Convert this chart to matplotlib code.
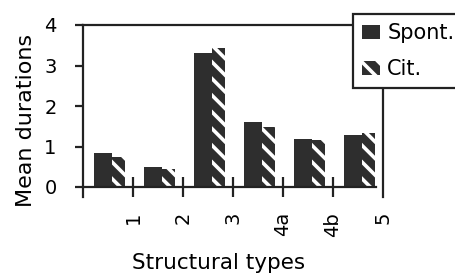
import matplotlib
matplotlib.use("Agg")
import matplotlib.pyplot as plt
import numpy as np

categories = ["1", "2", "3", "4a", "4b", "5"]
spont = [0.84, 0.49, 3.30, 1.60, 1.19, 1.28]
cit = [0.75, 0.44, 3.42, 1.48, 1.17, 1.33]
yticks = [0, 1, 2, 3, 4]

plt.rcParams['font.family'] = ['DejaVu Sans']
plt.rcParams['hatch.linewidth'] = 2.6
plt.rcParams['hatch.color'] = 'white'

dark = '#2e2e2e'
fig = plt.figure(figsize=(4.56, 2.78), dpi=100)
ax = fig.add_axes([83/456, 1-187/278, 300/456, 162/278])

x = np.arange(len(categories))
ax.bar(x - 0.11, spont, width=0.36, color=dark, linewidth=0, label='Spont.')
ax.bar(x + 0.205, cit, width=0.27, color=dark, edgecolor='white', hatch='\\\\', linewidth=0, label='Cit.')

ax.set_xlim(-0.5, 5.5)
ax.set_ylim(0, 4)

for s in ['left', 'right', 'top', 'bottom']:
    ax.spines[s].set_linewidth(1.6)
    ax.spines[s].set_color('#222222')
ax.spines['left'].set_bounds(-0.25, 4)
ax.spines['right'].set_bounds(-0.25, 4)
ax.spines['bottom'].set_bounds(-0.5, 5.36)

ax.set_yticks(yticks)
ax.set_yticklabels([str(v) for v in yticks])
ax.tick_params(axis='y', direction='out', length=6, width=1.6, pad=13, labelsize=14, color='#222222')

ax.set_xticks(x + 0.5)
ax.set_xticklabels(categories, rotation=90, ha='center', va='top')
ax.tick_params(axis='x', direction='inout', length=14, width=1.6, pad=11, labelsize=14, color='#222222')
ax.xaxis.get_major_ticks()[-1].tick1line.set_visible(False)

ax.set_ylabel('Mean durations', fontsize=16)
ax.yaxis.set_label_coords(-0.155, 0.41)
ax.set_xlabel('Structural types', fontsize=15.5)
ax.xaxis.set_label_coords(0.453, -0.41)

leg = ax.legend(loc='upper left', bbox_to_anchor=(353/456, 1-14/278), bbox_transform=fig.transFigure,
                fontsize=15, frameon=True, fancybox=False, handlelength=0.85, handleheight=0.65,
                handletextpad=0.35, borderpad=0.45, labelspacing=0.75, borderaxespad=0)
leg.get_frame().set_edgecolor('#222222')
leg.get_frame().set_linewidth(1.6)
leg.get_frame().set_facecolor('white')
leg.get_frame().set_alpha(1)
leg.set_zorder(10)

fig.savefig('out.png', dpi=100)
